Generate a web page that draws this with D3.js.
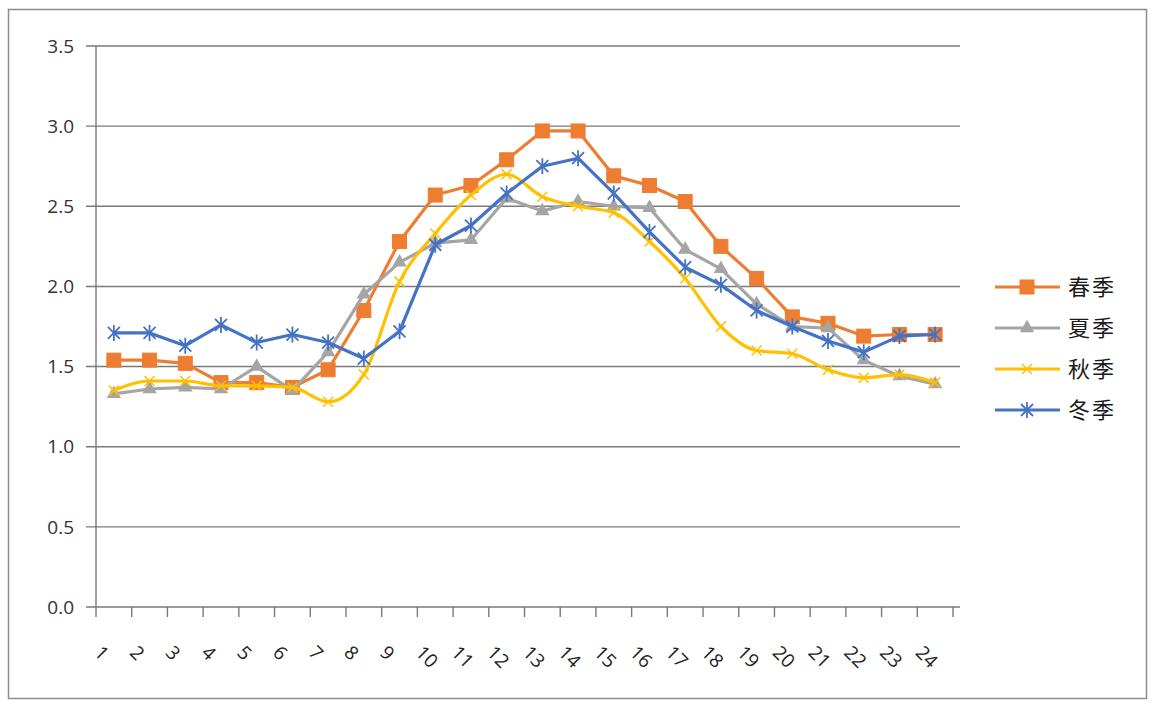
<!DOCTYPE html>
<html><head><meta charset="utf-8">
<script src="https://cdn.jsdelivr.net/npm/d3@7/dist/d3.min.js"></script>
<style>body{margin:0;background:#fff;font-family:"Open Sans","DejaVu Sans",sans-serif}</style>
</head><body><svg id="c" width="1155" height="704"></svg>
<script>
const hours = ["1","2","3","4","5","6","7","8","9","10","11","12","13","14","15","16","17","18","19","20","21","22","23","24"];
const yTicks = [0,0.5,1.0,1.5,2.0,2.5,3.0,3.5];
const seriesNames = ["春季","夏季","秋季","冬季"];
const spring = [1.54,1.54,1.52,1.40,1.40,1.37,1.48,1.85,2.28,2.57,2.63,2.79,2.97,2.97,2.69,2.63,2.53,2.25,2.05,1.81,1.77,1.69,1.70,1.70];
const summer = [1.33,1.36,1.37,1.36,1.50,1.35,1.59,1.95,2.15,2.27,2.29,2.55,2.47,2.53,2.50,2.49,2.23,2.11,1.89,1.75,1.74,1.54,1.44,1.39];
const autumn = [1.35,1.41,1.41,1.38,1.38,1.37,1.28,1.45,2.03,2.33,2.57,2.70,2.56,2.50,2.46,2.28,2.05,1.75,1.60,1.58,1.48,1.43,1.45,1.40];
const winter = [1.71,1.71,1.63,1.76,1.65,1.70,1.65,1.55,1.72,2.26,2.38,2.58,2.75,2.80,2.58,2.34,2.12,2.01,1.85,1.75,1.66,1.59,1.69,1.70];
const colors = ["#ED7D31","#A5A5A5","#FFC000","#4472C4"];
const markers = ["square","triangle","x","asterisk"];
const smooth = [false,false,true,false];
const data = [spring, summer, autumn, winter];

const svg = d3.select("#c");
svg.append("rect").attr("x",8.5).attr("y",9.5).attr("width",1138).attr("height",689)
  .attr("fill","#fff").attr("stroke","#8c8c8c").attr("stroke-width",1.5);

const L=96, R=953, T=46, B=607;
const x = d3.scaleBand().domain(hours).range([L,R]).padding(0);
const y = d3.scaleLinear().domain([0,3.5]).range([B,T]);

svg.append("g").selectAll("line").data(yTicks).join("line")
  .attr("x1",86).attr("x2",960).attr("y1",d=>y(d)).attr("y2",d=>y(d))
  .attr("stroke","#7a7a7a").attr("stroke-width",1.4);
svg.append("line").attr("x1",L).attr("x2",L).attr("y1",T).attr("y2",B).attr("stroke","#7a7a7a").attr("stroke-width",1.4);
svg.append("g").selectAll("text").data(yTicks).join("text")
  .attr("x",74).attr("y",d=>y(d)).attr("dy","0.35em").attr("text-anchor","end")
  .attr("font-size",19).attr("fill","#333").text(d=>d.toFixed(1));
const bounds = hours.map(h=>x(h)).concat([R]);
svg.append("g").selectAll("line").data(bounds).join("line")
  .attr("x1",d=>d).attr("x2",d=>d).attr("y1",B).attr("y2",B+10).attr("stroke","#7a7a7a").attr("stroke-width",1.4);
svg.append("g").selectAll("text").data(hours).join("text")
  .attr("transform",d=>`translate(${x(d)+x.bandwidth()/2-16},${B+42}) rotate(45)`)
  .attr("text-anchor","start").attr("dy","0.35em")
  .attr("font-size",19).attr("fill","#222").text(d=>d);

function drawMarker(g, type, color, cx, cy){
  if(type==="square"){
    g.append("rect").attr("x",cx-7).attr("y",cy-7).attr("width",14).attr("height",14).attr("fill",color).attr("stroke",color);
  } else if(type==="triangle"){
    g.append("path").attr("d",d3.symbol(d3.symbolTriangle, 90)()).attr("transform",`translate(${cx},${cy})`).attr("fill",color);
  } else if(type==="x"){
    g.append("path").attr("d",`M${cx-5},${cy-5}L${cx+5},${cy+5}M${cx-5},${cy+5}L${cx+5},${cy-5}`).attr("stroke",color).attr("stroke-width",1.5);
  } else {
    g.append("path").attr("d",`M${cx-6},${cy-6}L${cx+6},${cy+6}M${cx-6},${cy+6}L${cx+6},${cy-6}M${cx},${cy-8}L${cx},${cy+8}`).attr("stroke",color).attr("stroke-width",1.8);
  }
}

data.forEach((vals,si)=>{
  const line = d3.line().x((d,i)=>x(hours[i])+x.bandwidth()/2).y(d=>y(d))
    .curve(smooth[si] ? d3.curveMonotoneX : d3.curveLinear);
  const g = svg.append("g");
  g.append("path").attr("d",line(vals)).attr("fill","none").attr("stroke",colors[si]).attr("stroke-width",3.2).attr("stroke-linejoin","round");
  vals.forEach((v,i)=>drawMarker(g, markers[si], colors[si], x(hours[i])+x.bandwidth()/2, y(v)));
});

const lg = svg.append("g");
seriesNames.forEach((n,i)=>{
  const yy = 287 + i*41;
  lg.append("line").attr("x1",995).attr("x2",1060).attr("y1",yy).attr("y2",yy).attr("stroke",colors[i]).attr("stroke-width",3.2);
  drawMarker(lg, markers[i], colors[i], 1027, yy);
  lg.append("text").attr("x",1068).attr("y",yy).attr("dy","0.35em").attr("font-size",22)
    .attr("font-family","Noto Sans CJK SC").attr("fill","#1a1a1a").attr("letter-spacing",2).text(n);
});
</script></body></html>
